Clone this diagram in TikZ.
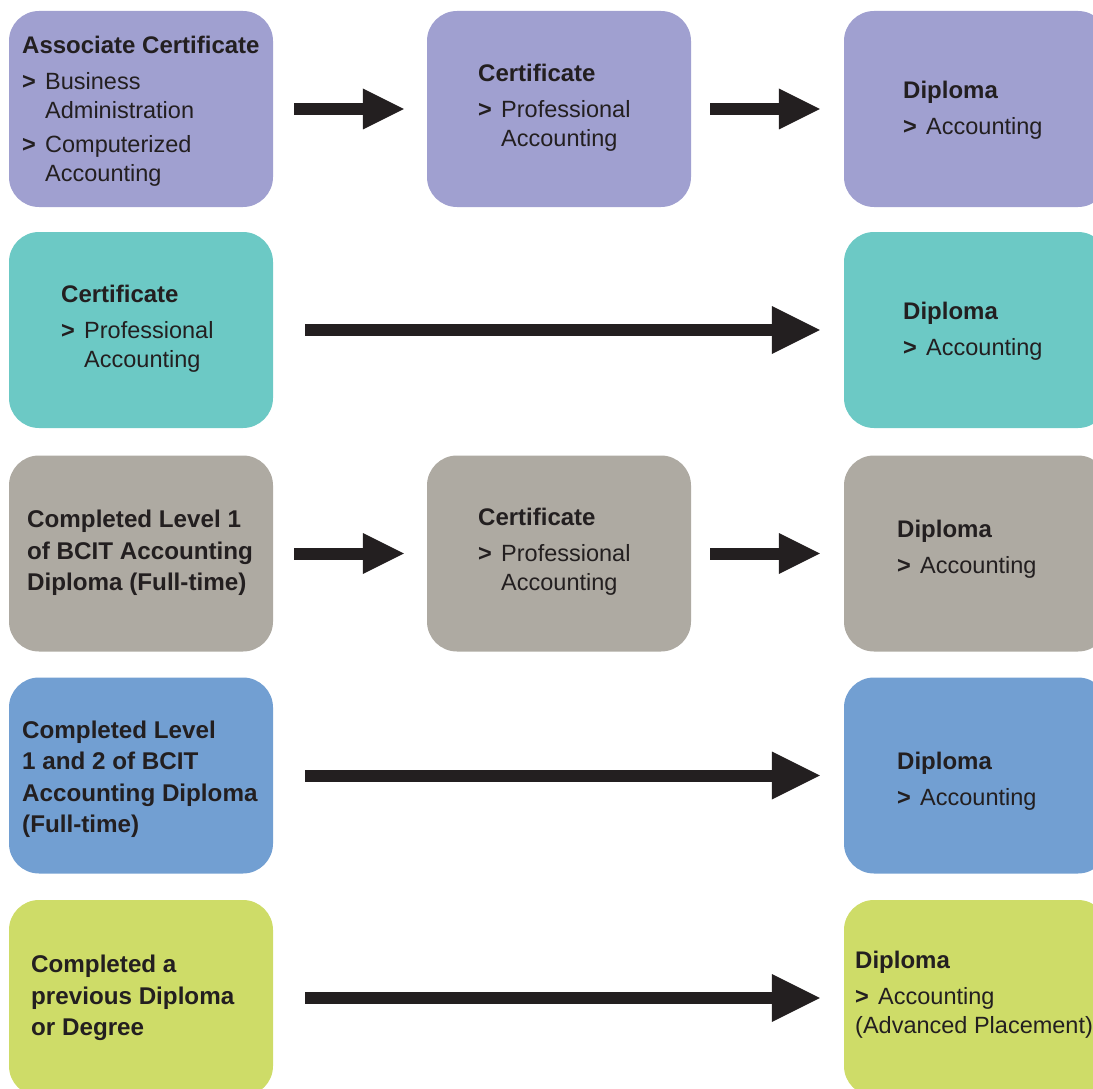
\documentclass[tikz,border=0pt]{standalone}
\usepackage{fontspec}
\setmainfont{Liberation Sans}
\usetikzlibrary{arrows.meta}

\definecolor{ink}{HTML}{231F20}
\definecolor{lavender}{HTML}{A0A0D0}
\definecolor{aqua}{HTML}{6CC9C5}
\definecolor{stone}{HTML}{AEAAA2}
\definecolor{sky}{HTML}{729FD2}
\definecolor{lime}{HTML}{CEDC68}

\newcommand{\itemgt}{\makebox[23pt][l]{\textbf{>}}}
\newcommand{\itemind}{\hspace*{23pt}}
\newcommand{\boxhead}[1]{{\fontsize{24}{29}\selectfont\bfseries #1}}

\begin{document}
\begin{tikzpicture}
[
    x=1pt, y=-1pt,
    stepbox/.style={rounded corners=30pt, minimum width=264pt, minimum height=196pt, inner sep=0pt},
    boxtext/.style={anchor=west, align=left, inner sep=0pt, text=ink, font=\fontsize{23.5}{29}\selectfont},
    headtext/.style={boxtext, font=\fontsize{24.2}{31.5}\selectfont\bfseries},
    steparrow/.style={draw=ink, line width=12pt, -{Triangle[length=41pt, width=41pt, line width=0pt]}},
    longarrow/.style={draw=ink, line width=12pt, -{Triangle[length=48pt, width=48pt, line width=0pt]}},
]
\path[use as bounding box, clip] (0,0) rectangle (1093,1089);

% row 1
\node [stepbox, fill=lavender] (r1a) at (141,109) {};
\node [stepbox, fill=lavender] (r1b) at (559,109) {};
\node [stepbox, fill=lavender] (r1c) at (976,109) {};
\node [boxtext] (t1a) at (22,111)
{\boxhead{Associate Certificate}\\[7pt]
 \itemgt Business\\ \itemind Administration\\[5pt]
 \itemgt Computerized\\ \itemind Accounting};
\node [boxtext] (t1b) at (478,108)
{\boxhead{Certificate}\\[7pt] \itemgt Professional\\ \itemind Accounting};
\node [boxtext] (t1c) at (903,110)
{\boxhead{Diploma}\\[7pt] \itemgt Accounting};
\draw [steparrow] ([xshift=21pt]r1a.east) -- ([xshift=-23pt]r1b.west);
\draw [steparrow] ([xshift=19pt]r1b.east) -- ([xshift=-24pt]r1c.west);

% row 2
\node [stepbox, fill=aqua] (r2a) at (141,330) {};
\node [stepbox, fill=aqua] (r2c) at (976,330) {};
\node [boxtext] (t2a) at (61,329)
{\boxhead{Certificate}\\[7pt] \itemgt Professional\\ \itemind Accounting};
\node [boxtext] (t2c) at (903,331)
{\boxhead{Diploma}\\[7pt] \itemgt Accounting};
\draw [longarrow] ([xshift=32pt]r2a.east) -- ([xshift=-24pt]r2c.west);

% row 3
\node [stepbox, fill=stone] (r3a) at (141,553.5) {};
\node [stepbox, fill=stone] (r3b) at (559,553.5) {};
\node [stepbox, fill=stone] (r3c) at (976,553.5) {};
\node [headtext] (t3a) at (27,553)
{Completed Level 1\\ of BCIT Accounting\\ Diploma (Full-time)};
\node [boxtext] (t3b) at (478,552)
{\boxhead{Certificate}\\[7pt] \itemgt Professional\\ \itemind Accounting};
\node [boxtext] (t3c) at (897,549)
{\boxhead{Diploma}\\[7pt] \itemgt Accounting};
\draw [steparrow] ([xshift=21pt]r3a.east) -- ([xshift=-23pt]r3b.west);
\draw [steparrow] ([xshift=19pt]r3b.east) -- ([xshift=-24pt]r3c.west);

% row 4
\node [stepbox, fill=sky] (r4a) at (141,775.5) {};
\node [stepbox, fill=sky] (r4c) at (976,775.5) {};
\node [headtext] (t4a) at (22,779)
{Completed Level\\ 1 and 2 of BCIT\\ Accounting Diploma\\ (Full-time)};
\node [boxtext] (t4c) at (897,781)
{\boxhead{Diploma}\\[7pt] \itemgt Accounting};
\draw [longarrow] ([xshift=32pt]r4a.east) -- ([xshift=-24pt]r4c.west);

% row 5
\node [stepbox, fill=lime] (r5a) at (141,998) {};
\node [stepbox, fill=lime] (r5c) at (976,998) {};
\node [headtext] (t5a) at (31,998)
{Completed a\\ previous Diploma\\ or Degree};
\node [boxtext] (t5c) at (855,995)
{\boxhead{Diploma}\\[7pt] \itemgt Accounting\\ (Advanced Placement)};
\draw [longarrow] ([xshift=32pt]r5a.east) -- ([xshift=-24pt]r5c.west);
\end{tikzpicture}
\end{document}
